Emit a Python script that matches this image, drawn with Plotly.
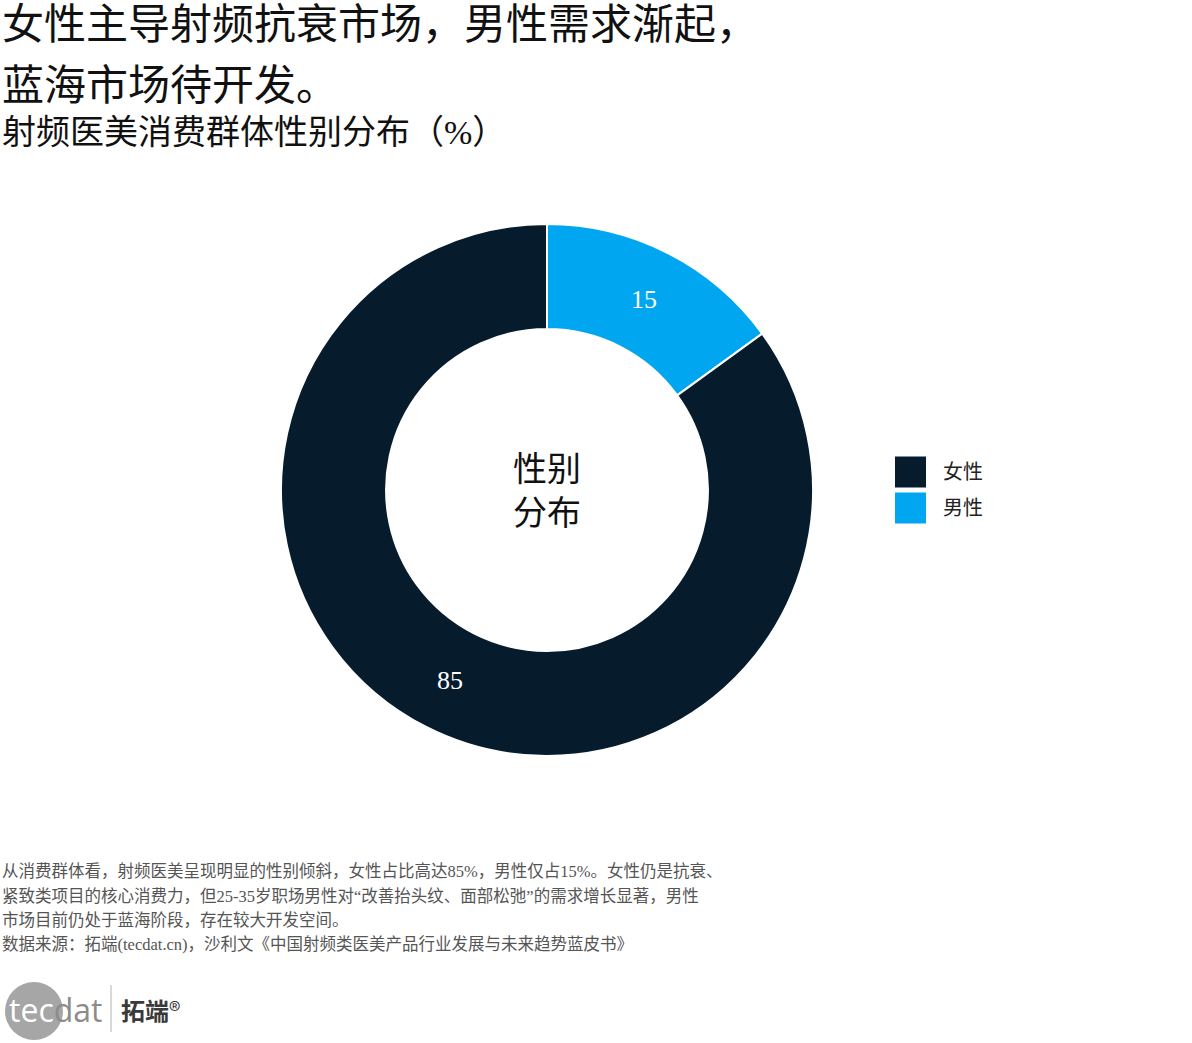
import plotly.graph_objects as go

# ---- data ----
labels = ["男性", "女性"]
values = [15, 85]
colors = ["#00a6f0", "#061c2d"]
legend_labels = ["女性", "男性"]
legend_colors = ["#061c2d", "#00a6f0"]

title_lines = ["女性主导射频抗衰市场，男性需求渐起，", "蓝海市场待开发。"]
subtitle = "射频医美消费群体性别分布（%）"
center_text = "性别<br>分布"
note_lines = [
    "从消费群体看，射频医美呈现明显的性别倾斜，女性占比高达85%，男性仅占15%。女性仍是抗衰、",
    "紧致类项目的核心消费力，但25-35岁职场男性对“改善抬头纹、面部松弛”的需求增长显著，男性",
    "市场目前仍处于蓝海阶段，存在较大开发空间。",
    "数据来源：拓端(tecdat.cn)，沙利文《中国射频类医美产品行业发展与未来趋势蓝皮书》",
]

W, H = 1192, 1043
FONT = "Liberation Serif, Noto Sans CJK SC, serif"

def px(x):
    return x / W

def py(y):
    return 1 - y / H

cx, cy, R = 547, 490, 266

fig = go.Figure(go.Pie(
    labels=labels,
    values=values,
    marker=dict(colors=colors, line=dict(color="white", width=2)),
    hole=0.605,
    sort=False,
    direction="clockwise",
    rotation=0,
    textinfo="value",
    textposition="inside",
    insidetextorientation="horizontal",
    textfont=dict(color="white", size=26, family=FONT),
    showlegend=False,
    hoverinfo="label+value",
    domain=dict(x=[px(cx - R), px(cx + R)], y=[py(cy + R), py(cy - R)]),
))

ann = []
ann.append(dict(text=title_lines[0], x=0, y=py(25), xanchor="left", yanchor="middle",
                font=dict(size=42, color="#111111", family=FONT)))
ann.append(dict(text=title_lines[1], x=0, y=py(86), xanchor="left", yanchor="middle",
                font=dict(size=42, color="#111111", family=FONT)))
ann.append(dict(text=subtitle, x=0, y=py(132), xanchor="left", yanchor="middle",
                font=dict(size=34, color="#111111", family=FONT)))
ann.append(dict(text=center_text, x=px(cx), y=py(491), xanchor="center", yanchor="middle",
                font=dict(size=34, color="#111111", family=FONT)))

note_y = [871, 896, 920, 944]
for t, yy in zip(note_lines, note_y):
    ann.append(dict(text=t, x=0, y=py(yy), xanchor="left", yanchor="middle",
                    font=dict(size=16.5, color="#555555", family=FONT)))

shapes = []
# custom legend
leg_y = [472, 508]
for lab, col, yy in zip(legend_labels, legend_colors, leg_y):
    shapes.append(dict(type="rect", xref="paper", yref="paper",
                       x0=px(895), x1=px(926), y0=py(yy + 15.5), y1=py(yy - 15.5),
                       fillcolor=col, line=dict(width=0)))
    ann.append(dict(text=lab, x=px(941), y=py(yy), xanchor="left", yanchor="middle",
                    font=dict(size=20, color="#222222", family=FONT)))

# logo
shapes.append(dict(type="circle", xref="paper", yref="paper",
                   x0=px(5), x1=px(63), y0=py(1040), y1=py(982),
                   fillcolor="#a6a6a6", line=dict(width=0)))
shapes.append(dict(type="line", xref="paper", yref="paper",
                   x0=px(111), x1=px(111), y0=py(1032), y1=py(985),
                   line=dict(color="#cccccc", width=1.5)))
ann.append(dict(text="<span style='color:#ffffff'>tec</span>dat", x=px(7), y=py(1009),
                xanchor="left", yanchor="middle",
                font=dict(size=32, color="#8c8c8c", family="Open Sans, DejaVu Sans, sans-serif")))
ann.append(dict(text="<b>拓端</b>®", x=px(119), y=py(1009), xanchor="left", yanchor="middle",
                font=dict(size=24, color="#3a3a3a", family="Noto Sans CJK SC, sans-serif")))

for a in ann:
    a.setdefault("xref", "paper")
    a.setdefault("yref", "paper")
    a.setdefault("showarrow", False)

fig.update_layout(
    width=W, height=H,
    margin=dict(l=0, r=0, t=0, b=0),
    paper_bgcolor="white",
    plot_bgcolor="white",
    annotations=ann,
    shapes=shapes,
)

fig.write_html("out.html", config={"displayModeBar": False},
               post_script="document.body.style.margin='0px';document.body.style.padding='0px';")
